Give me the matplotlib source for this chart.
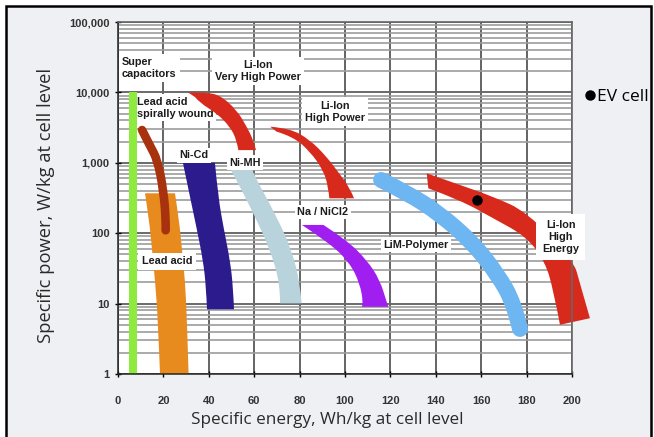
import numpy as np
import matplotlib
matplotlib.use("Agg")
import matplotlib.pyplot as plt
from matplotlib.path import Path
from matplotlib.patches import PathPatch, Rectangle
from matplotlib.ticker import LogLocator, NullFormatter

# ---------------- data (specific energy Wh/kg, specific power W/kg) ----------------
energy_ticks = [0, 20, 40, 60, 80, 100, 120, 140, 160, 180, 200]
power_ticks = [1, 10, 100, 1000, 10000, 100000]
power_tick_labels = ["1", "10", "100", "1,000", "10,000", "100,000"]

# Super capacitors (rectangle)
supercap_left_energy = [5.0, 5.0]
supercap_right_energy = [8.5, 8.5]
supercap_power = [1, 10000]

# Lead acid (orange band)
leadacid_left_energy = [11.9, 13.7, 15.0, 16.3, 17.6, 18.5]
leadacid_right_energy = [25.1, 26.9, 28.2, 29.5, 30.4, 31.1]
leadacid_power = [369, 154, 58, 21.6, 5.85, 1]

# Lead acid spirally wound (centre line of thin band)
spiral_energy = [10.6, 13.9, 17.4, 20.0, 21.1, 21.0]
spiral_power = [2920, 1790, 1100, 410, 154, 110]

# Ni-Cd
nicd_left_energy = [28.6, 31.7, 34.8, 37.4, 38.8, 39.2]
nicd_right_energy = [42.7, 44.1, 46.7, 49.3, 50.7, 51.1]
nicd_power = [1000, 330, 111, 42, 17.4, 8.3]

# Ni-MH
nimh_left_energy = [48.5, 50.7, 60.4, 67.0, 71.4, 71.4]
nimh_right_energy = [58.1, 59.5, 69.9, 76.5, 80.2, 80.9]
nimh_power = [930, 709, 172, 58, 19.4, 10.1]

# Li-ion very high power
livhp_outer_energy = [30.8, 38.3, 44.9, 52.3, 56.7, 59.6, 60.8]
livhp_outer_power = [10000, 10000, 9180, 5620, 3260, 2110, 1515]
livhp_inner_energy = [33.9, 36.1, 43.5, 49.3, 52.3, 53.0]
livhp_inner_power = [8600, 7070, 5050, 3260, 2110, 1515]

# Li-ion high power
lihp_outer_energy = [67.0, 75.8, 84.6, 91.9, 97.4, 101.8, 104.0]
lihp_outer_power = [3260, 3090, 2110, 1220, 709, 458, 313]
lihp_inner_energy = [69.9, 77.2, 84.6, 90.4, 92.6, 93.1]
lihp_inner_power = [2770, 2350, 1440, 790, 458, 313]

# Na / NiCl2
nanicl_outer_energy = [90.5, 100.7, 109.6, 115.4, 118.5, 119.1]
nanicl_outer_power = [131, 80, 41.6, 21.6, 10.1, 9.0]
nanicl_inner_energy = [81.0, 93.4, 102.2, 106.5, 108.1, 107.4]
nanicl_inner_power = [131, 72, 37.4, 19.4, 10.1, 9.0]

# LiM-Polymer (centre line of band)
limpoly_energy = [115.9, 127.8, 141.9, 156.5, 167.4, 174.4, 177.1]
limpoly_power = [570, 369, 187, 72, 25.5, 10.1, 4.36]

# Li-ion high energy
lihe_outer_energy = [136.0, 150.7, 165.3, 180.0, 200.6, 203.5, 207.9]
lihe_outer_power = [709, 484, 330, 202, 41.6, 19.4, 6.2]
lihe_inner_energy = [136.7, 150.7, 165.3, 180.0, 188.1, 191.8, 194.7]
lihe_inner_power = [434, 296, 163, 89, 39.4, 15.6, 5.0]

# EV cell
ev_energy = [158]
ev_power = [296]

# ---------------- colours ----------------
C_SUPER = "#8EEA3E"
C_SPIRAL = "#A8320E"
C_LEAD = "#E88B1E"
C_NICD = "#2B1B8C"
C_NIMH = "#B8D3DB"
C_LIION = "#D82A1C"
C_NANICL = "#A01EF0"
C_LIMPOLY = "#6DB6F2"


def smooth_edge(es, ps):
    pts = list(zip(es, ps))
    n = len(pts)
    verts = [pts[0]]
    codes = [Path.MOVETO]
    if n == 2:
        verts.append(pts[1])
        codes.append(Path.LINETO)
        return verts, codes

    def mid(a, b):
        return ((a[0] + b[0]) / 2.0, np.sqrt(a[1] * b[1]))

    for i in range(1, n - 1):
        end = pts[n - 1] if i == n - 2 else mid(pts[i], pts[i + 1])
        verts += [pts[i], end]
        codes += [Path.CURVE3, Path.CURVE3]
    return verts, codes


def band(ax, e1, p1, e2, p2, color, clip=True):
    v1, c1 = smooth_edge(e1, p1)
    v2, c2 = smooth_edge(e2[::-1], p2[::-1])
    c2[0] = Path.LINETO
    verts = v1 + v2 + [v1[0]]
    codes = c1 + c2 + [Path.CLOSEPOLY]
    patch = PathPatch(Path(verts, codes), facecolor=color, edgecolor="none",
                      zorder=2, clip_on=clip)
    ax.add_patch(patch)


def stroke(ax, es, ps, color, width_pt):
    v, c = smooth_edge(es, ps)
    patch = PathPatch(Path(v, c), facecolor="none", edgecolor=color,
                      lw=width_pt, capstyle="round", joinstyle="round", zorder=2)
    ax.add_patch(patch)


fig = plt.figure(figsize=(6.54, 4.37), dpi=100)
fig.patch.set_facecolor("white")
frame = Rectangle((6 / 654, -0.02), (651 - 6) / 654, 1 - 5.5 / 437 + 0.02,
                  transform=fig.transFigure, facecolor="#eef0f3",
                  edgecolor="black", lw=1.8, zorder=0)
fig.add_artist(frame)

ax = fig.add_axes([118 / 654, 1 - 374 / 437, (572 - 118) / 654, (374 - 22) / 437])
ax.set_facecolor("white")
ax.set_yscale("log")
ax.set_xlim(0, 200)
ax.set_ylim(1, 100000)

# grid
ax.set_axisbelow(True)
ax.yaxis.set_minor_locator(LogLocator(base=10, subs=np.arange(2, 10)))
ax.yaxis.set_minor_formatter(NullFormatter())
ax.grid(which="minor", axis="y", color="#9c9c9c", lw=1.2)
ax.grid(which="major", axis="y", color="#6a6a6a", lw=1.4)
ax.grid(which="major", axis="x", color="#3a3a3a", lw=1.1)

# bands
band(ax, supercap_left_energy, supercap_power, supercap_right_energy, supercap_power, C_SUPER)
band(ax, leadacid_left_energy, leadacid_power, leadacid_right_energy, leadacid_power, C_LEAD)
stroke(ax, spiral_energy, spiral_power, C_SPIRAL, 6.2)
band(ax, nicd_left_energy, nicd_power, nicd_right_energy, nicd_power, C_NICD)
band(ax, nimh_left_energy, nimh_power, nimh_right_energy, nimh_power, C_NIMH)
band(ax, livhp_outer_energy, livhp_outer_power, livhp_inner_energy, livhp_inner_power, C_LIION)
band(ax, lihp_outer_energy, lihp_outer_power, lihp_inner_energy, lihp_inner_power, C_LIION)
band(ax, nanicl_outer_energy, nanicl_outer_power, nanicl_inner_energy, nanicl_inner_power, C_NANICL)
stroke(ax, limpoly_energy, limpoly_power, C_LIMPOLY, 11.5)
band(ax, lihe_outer_energy, lihe_outer_power, lihe_inner_energy, lihe_inner_power, C_LIION, clip=False)

ax.plot(ev_energy, ev_power, "o", color="black", ms=6.5, zorder=6, label="EV cell")

# labels: (text, energy, power, alignment, box padding, zorder)
label_font = dict(family="Liberation Sans", weight="bold", size=7.8, color="#1c1c1c")
labels = [
    ("Super\ncapacitors", 1.8, 22300, "left", 2.2, 4),
    ("Li-Ion\nVery High Power", 61.7, 20000, "center", 2.2, 4),
    ("Lead acid\nspirally wound", 8.4, 6100, "left", 1.8, 1.5),
    ("Li-Ion\nHigh Power", 95.6, 5350, "center", 2.2, 4),
    ("Ni-Cd", 33.5, 1290, "center", 1.8, 4),
    ("Ni-MH", 56, 1000, "center", 1.8, 4),
    ("Na / NiCl2", 90.3, 200, "center", 1.8, 4),
    ("LiM-Polymer", 131.3, 68, "center", 1.8, 4),
    ("Lead acid", 21.6, 40, "center", 2.6, 4),
    ("Li-Ion\nHigh\nEnergy", 195.0, 89, "center", 4.2, 4),
]
for txt, e, p, ha, pad, z in labels:
    ax.text(e, p, txt, ha=ha, va="center", multialignment=ha, linespacing=1.25,
            bbox=dict(facecolor="white", edgecolor="none", pad=pad),
            zorder=z, clip_on=False, **label_font)

# axes, ticks
ax.set_xticks(energy_ticks)
ax.set_xticklabels([str(v) for v in energy_ticks])
ax.set_yticks(power_ticks)
ax.set_yticklabels(power_tick_labels)
ax.tick_params(axis="both", which="major", direction="inout", length=4, width=1,
               labelsize=8, labelcolor="#333333")
ax.tick_params(axis="x", pad=14)
ax.tick_params(axis="y", pad=4)
ax.tick_params(axis="y", which="minor", length=0)
for lab in ax.get_xticklabels() + ax.get_yticklabels():
    lab.set_fontfamily("Liberation Sans")
    lab.set_fontweight("bold")

for s in ["left", "bottom"]:
    ax.spines[s].set_color("#222222")
    ax.spines[s].set_linewidth(1.1)
for s in ["top", "right"]:
    ax.spines[s].set_color("#666666")
    ax.spines[s].set_linewidth(1.2)

ax.set_xlabel("Specific energy, Wh/kg at cell level", family="Open Sans",
              size=12.3, color="#2a2a2a", va="center")
ax.xaxis.set_label_coords((327 - 118) / 454, (374 - 420) / 352)
ax.set_ylabel("Specific power, W/kg at cell level", family="Open Sans",
              size=13.2, color="#2a2a2a", va="center")
ax.yaxis.set_label_coords((46 - 118) / 454, (374 - 205) / 352)

fig.legend(loc="center left", bbox_to_anchor=(585 / 654, 1 - 97 / 437),
           frameon=False, handlelength=0.6, handletextpad=0.1, borderpad=0,
           borderaxespad=0, numpoints=1, prop=dict(family="Open Sans", size=12.5))

fig.savefig("out.png", dpi=100, facecolor=fig.get_facecolor())
